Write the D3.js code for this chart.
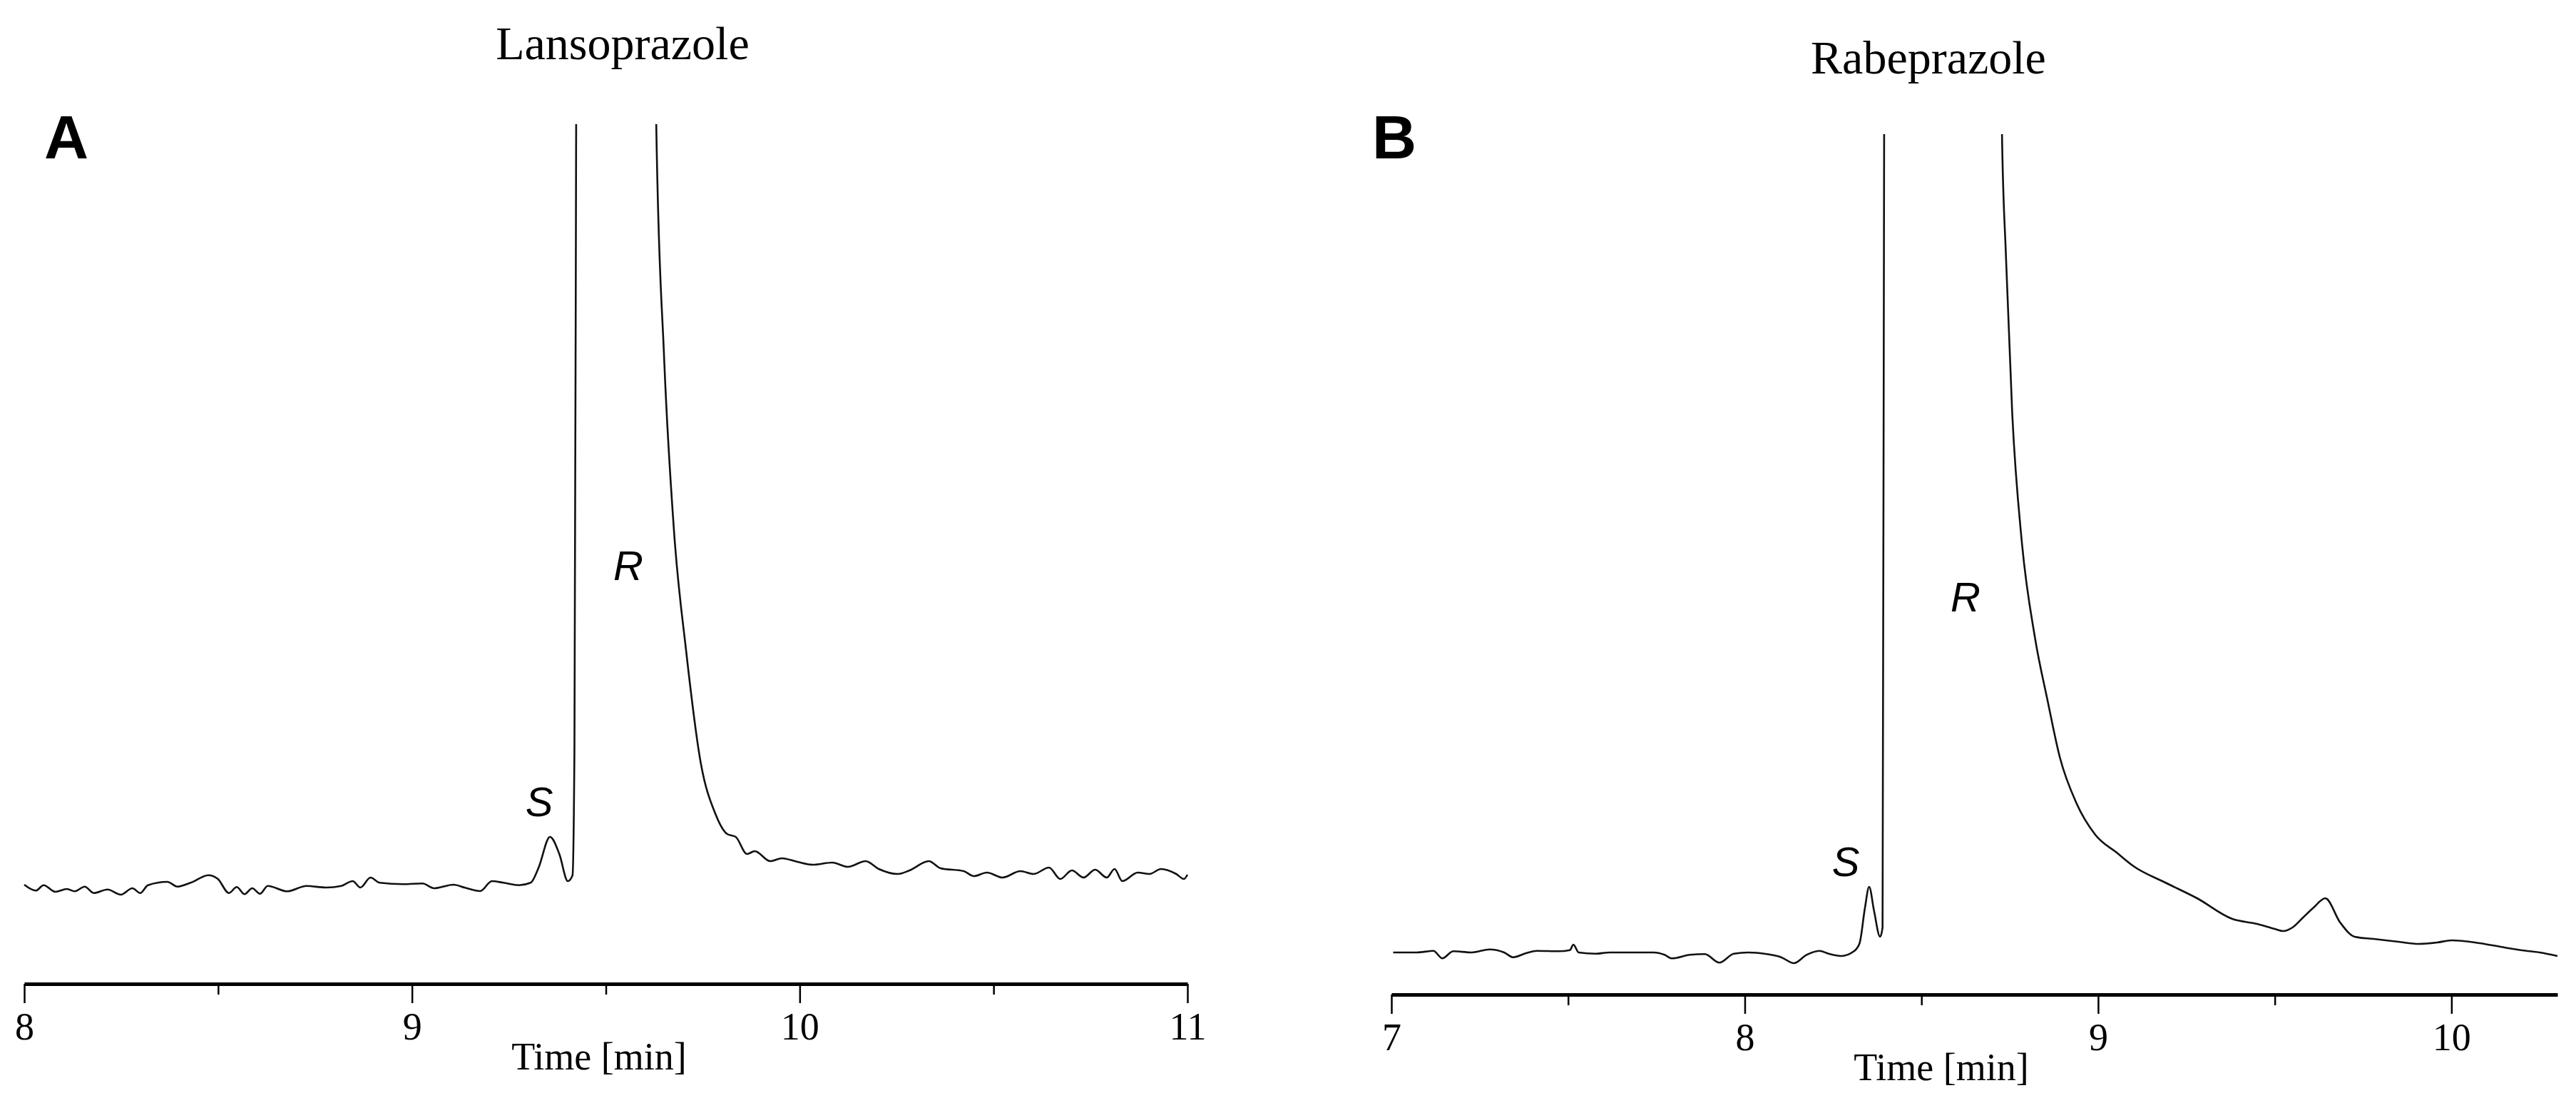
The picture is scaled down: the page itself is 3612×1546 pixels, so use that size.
<!DOCTYPE html>
<html>
<head>
<meta charset="utf-8">
<script src="https://cdn.jsdelivr.net/npm/d3@7"></script>
<style>
  body { margin: 0; background: #fff; }
  svg { display: block; }
</style>
</head>
<body>
<svg id="chart" width="3612" height="1546"></svg>
<script>
// chromatogram A (lansoprazole): [time in min, signal]
const lansoTrace = [
  [8.000, 10], [8.030, 1.7], [8.050, 9.3], [8.080, 0], [8.110, 4], [8.130, 0.7],
  [8.156, 7.3], [8.179, -1.7], [8.215, 3.3], [8.249, -4], [8.279, 5], [8.299, -1.7],
  [8.319, 9.3], [8.369, 14], [8.395, 7.3], [8.429, 12.7], [8.475, 23.3], [8.499, 18.3],
  [8.528, -1.7], [8.548, 6.7], [8.568, -3.3], [8.588, 5], [8.608, -2.7], [8.628, 8.3],
  [8.678, 0.7], [8.728, 8.3], [8.778, 6], [8.818, 8.3], [8.847, 15], [8.867, 6],
  [8.893, 20], [8.917, 12.7], [8.977, 10.7], [9.027, 11.7], [9.057, 5], [9.107, 10],
  [9.137, 5.7], [9.176, 1], [9.206, 15], [9.236, 12.7], [9.276, 9.3], [9.306, 12.7],
  [9.326, 33], [9.356, 77], [9.380, 53], [9.402, 15], [9.414, 23], [9.419, 200],
  [9.424, 1200], [9.45, 5000], [9.60, 3500], [9.630, 1076], [9.650, 752], [9.676, 504],
  [9.707, 338], [9.745, 180], [9.782, 110], [9.813, 81], [9.835, 77], [9.864, 53],
  [9.884, 57], [9.924, 43], [9.954, 47], [9.994, 42], [10.034, 38], [10.084, 41],
  [10.124, 35], [10.170, 43], [10.204, 32], [10.253, 25], [10.283, 30], [10.333, 43],
  [10.363, 33], [10.423, 29], [10.449, 22], [10.483, 27], [10.523, 20], [10.569, 29],
  [10.603, 25], [10.643, 34], [10.672, 18], [10.702, 30], [10.732, 20], [10.762, 31],
  [10.792, 20], [10.812, 32], [10.832, 15], [10.872, 27], [10.902, 25], [10.932, 32],
  [10.971, 25], [10.991, 18], [11.000, 24]
];

// chromatogram B (rabeprazole): [time in min, signal]
const rabeTrace = [
  [7.005, 5], [7.072, 5], [7.119, 7.3], [7.144, -3.3], [7.175, 6.7], [7.227, 5],
  [7.278, 9.3], [7.319, 5], [7.345, -1.7], [7.381, 4], [7.412, 7.3], [7.474, 6.7],
  [7.505, 8.3], [7.515, 16], [7.530, 5], [7.577, 3.3], [7.618, 5], [7.680, 5],
  [7.742, 5], [7.773, 1.7], [7.794, -3.3], [7.845, 1.7], [7.887, 2.7], [7.928, -9.3],
  [7.969, 3.3], [8.010, 5], [8.062, 2.7], [8.103, -1.7], [8.139, -10], [8.175, 1.7],
  [8.211, 7.3], [8.237, 3.3], [8.273, 0], [8.309, 6.7], [8.325, 18], [8.340, 67],
  [8.352, 97], [8.366, 63], [8.383, 27], [8.390, 40], [8.395, 1300], [8.45, 5000],
  [8.70, 3000], [8.728, 1152], [8.739, 983], [8.757, 760], [8.784, 581], [8.821, 447],
  [8.857, 358], [8.892, 278], [8.938, 215], [8.992, 170], [9.055, 144], [9.100, 126],
  [9.190, 103], [9.280, 81], [9.380, 52], [9.450, 45], [9.500, 38], [9.524, 35],
  [9.550, 40], [9.578, 53], [9.610, 68], [9.643, 81], [9.685, 47], [9.726, 27],
  [9.780, 24], [9.850, 20], [9.907, 17], [9.960, 19], [10.000, 22], [10.080, 18],
  [10.150, 12], [10.200, 8], [10.250, 5], [10.300, 0]
];

const lansoMajor = [8, 9, 10, 11];
const lansoMinor = [8.5, 9.5, 10.5];
const rabeMajor = [7, 8, 9, 10];
const rabeMinor = [7.5, 8.5, 9.5];

const panels = [
  {
    id: "A", title: "Lansoprazole", trace: lansoTrace,
    xDomain: [8, 11], xRange: [34, 1665], yMax: 1076, top: 174, base: 1250, axisY: 1379,
    major: lansoMajor, minor: lansoMinor,
    letterX: 62, titleX: 873, titleY: 83,
    sPos: [756, 1144], rPos: [881, 813], xLabelX: 840
  },
  {
    id: "B", title: "Rabeprazole", trace: rabeTrace,
    xDomain: [7, 10.3], xRange: [1951, 3586], yMax: 1152, top: 188, base: 1340, axisY: 1394,
    major: rabeMajor, minor: rabeMinor,
    letterX: 1924, titleX: 2704, titleY: 103,
    sPos: [2588, 1228], rPos: [2756, 857], xLabelX: 2722
  }
];

const svg = d3.select("#chart");

panels.forEach((p) => {
  const x = d3.scaleLinear().domain(p.xDomain).range(p.xRange);
  const y = d3.scaleLinear().domain([0, p.yMax]).range([p.base, p.top]);
  const g = svg.append("g");

  // clip the trace so the big peak is cut at the top
  g.append("clipPath").attr("id", "clip" + p.id)
    .append("rect")
    .attr("x", p.xRange[0] - 5).attr("y", p.top)
    .attr("width", p.xRange[1] - p.xRange[0] + 10).attr("height", p.axisY - p.top);

  const line = d3.line().x((d) => x(d[0])).y((d) => y(d[1])).curve(d3.curveMonotoneX);
  g.append("path")
    .datum(p.trace)
    .attr("clip-path", `url(#clip${p.id})`)
    .attr("fill", "none")
    .attr("stroke", "#111")
    .attr("stroke-width", 2.6)
    .attr("stroke-linejoin", "round")
    .attr("d", line);

  // axis with major and minor ticks
  const ax = g.append("g").attr("transform", `translate(0,${p.axisY})`)
    .call(d3.axisBottom(x).tickValues(p.major).tickSize(27).tickSizeOuter(0).tickFormat(d3.format("d")));
  ax.select(".domain").attr("stroke", "#000").attr("stroke-width", 5);
  ax.selectAll(".tick line").attr("stroke", "#000").attr("stroke-width", 2.5);
  ax.selectAll(".tick text")
    .attr("y", 40)
    .attr("font-family", "'Liberation Serif', 'Times New Roman', serif")
    .attr("font-size", 54)
    .attr("fill", "#000");
  g.append("g").attr("transform", `translate(0,${p.axisY})`)
    .call(d3.axisBottom(x).tickValues(p.minor).tickSize(15).tickFormat(""))
    .call((s) => s.select(".domain").remove())
    .selectAll(".tick line").attr("stroke", "#000").attr("stroke-width", 2.5);

  g.append("text")
    .attr("x", p.xLabelX).attr("y", p.axisY + 120)
    .attr("text-anchor", "middle")
    .attr("font-family", "'Liberation Serif', 'Times New Roman', serif")
    .attr("font-size", 54)
    .text("Time [min]");

  g.append("text")
    .attr("x", p.titleX).attr("y", p.titleY)
    .attr("text-anchor", "middle")
    .attr("font-family", "'Liberation Serif', 'Times New Roman', serif")
    .attr("font-size", 66)
    .text(p.title);

  g.append("text")
    .attr("x", p.letterX).attr("y", 222)
    .attr("font-family", "'Liberation Sans', Arial, sans-serif")
    .attr("font-weight", "bold")
    .attr("font-size", 86)
    .text(p.id);

  [["S", p.sPos], ["R", p.rPos]].forEach(([lab, pos]) => {
    g.append("text")
      .attr("x", pos[0]).attr("y", pos[1])
      .attr("text-anchor", "middle")
      .attr("font-family", "'Liberation Sans', Arial, sans-serif")
      .attr("font-style", "italic")
      .attr("font-size", 58)
      .text(lab);
  });
});
</script>
</body>
</html>
